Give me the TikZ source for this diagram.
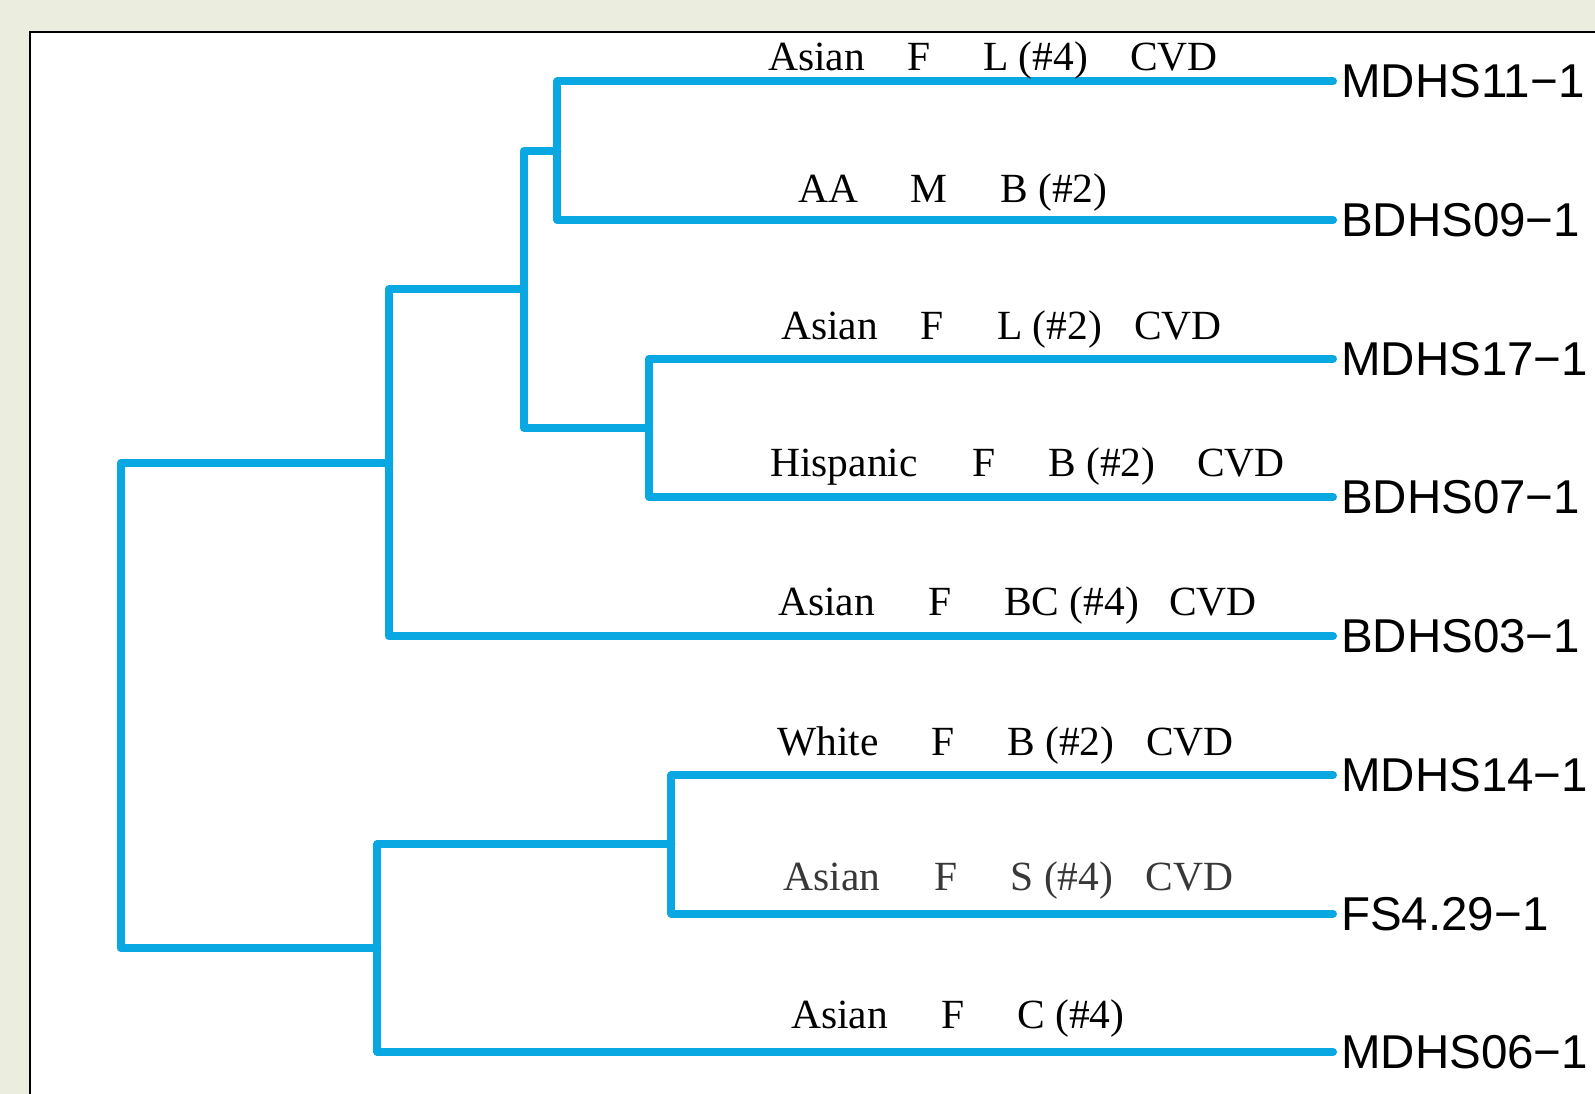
\documentclass[tikz,border=0pt]{standalone}
\usepackage{fontspec}
\setmainfont{Liberation Serif}
\newfontfamily\leaffont{Liberation Sans}
\definecolor{bgc}{RGB}{235,238,222}
\definecolor{treec}{RGB}{10,168,226}
\begin{document}
\begin{tikzpicture}[x=1pt,y=-1pt,
  branch/.style={draw=treec,line width=8pt,line cap=round,line join=round},
  word/.style={anchor=base west,inner sep=0pt,font=\fontsize{41.5}{48}\selectfont},
  leaf/.style={anchor=base west,inner sep=0pt,font=\leaffont\fontsize{47.5}{54}\selectfont}]
\useasboundingbox (0,0) rectangle (1595,1094);
\begin{scope}
  \clip (0,0) rectangle (1595,1094);
  \fill[bgc] (0,0) rectangle (1595,1094);
  \filldraw[fill=white,draw=black,line width=2.7pt] (30,32) rectangle (1640,1140);
\end{scope}

% leaf tips
\coordinate (t1) at (1333,81.5);
\coordinate (t2) at (1333,220);
\coordinate (t3) at (1333,358.5);
\coordinate (t4) at (1333,497);
\coordinate (t5) at (1333,636);
\coordinate (t6) at (1333,775);
\coordinate (t7) at (1333,913.5);
\coordinate (t8) at (1333,1052);
% internal nodes
\coordinate (nA) at (557.4,150.7);
\coordinate (nB) at (649,427.8);
\coordinate (nC) at (523.9,289.3);
\coordinate (nD) at (388.6,462.8);
\coordinate (nE) at (671.4,844.3);
\coordinate (nF) at (377.4,948);
\coordinate (nR) at (120.5,705.4);

\draw[branch] (nA) |- (t1);
\draw[branch] (nA) |- (t2);
\draw[branch] (nB) |- (t3);
\draw[branch] (nB) |- (t4);
\draw[branch] (nC) |- (nA);
\draw[branch] (nC) |- (nB);
\draw[branch] (nD) |- (nC);
\draw[branch] (nD) |- (t5);
\draw[branch] (nE) |- (t6);
\draw[branch] (nE) |- (t7);
\draw[branch] (nF) |- (nE);
\draw[branch] (nF) |- (t8);
\draw[branch] (nR) |- (nD);
\draw[branch] (nR) |- (nF);

% leaf names
\node[leaf] (m1) at (1341,98) {MDHS11−1};
\node[leaf] (m2) at (1341,236.5) {BDHS09−1};
\node[leaf] (m3) at (1341,375) {MDHS17−1};
\node[leaf] (m4) at (1341,513.5) {BDHS07−1};
\node[leaf] (m5) at (1341,652.5) {BDHS03−1};
\node[leaf] (m6) at (1341,791.5) {MDHS14−1};
\node[leaf] (m7) at (1341,930) {FS4.29−1};
\node[leaf] (m8) at (1341,1068.5) {MDHS06−1};

% branch annotations
\node[word] (r1a) at (768,71) {Asian};
\node[word] (r1b) at (907,71) {F};
\node[word] (r1c) at (983,71) {L (\#4)};
\node[word] (r1d) at (1130,71) {CVD};

\node[word] (r2a) at (798.5,203) {AA};
\node[word] (r2b) at (910,203) {M};
\node[word] (r2c) at (1000,203) {B (\#2)};

\node[word] (r3a) at (781,339.5) {Asian};
\node[word] (r3b) at (920.5,339.5) {F};
\node[word] (r3c) at (997,339.5) {L (\#2)};
\node[word] (r3d) at (1134,339.5) {CVD};

\node[word] (r4a) at (770,476) {Hispanic};
\node[word] (r4b) at (972,476) {F};
\node[word] (r4c) at (1048,476) {B (\#2)};
\node[word] (r4d) at (1197,476) {CVD};

\node[word] (r5a) at (778,615) {Asian};
\node[word] (r5b) at (928,615) {F};
\node[word] (r5c) at (1004,615) {BC (\#4)};
\node[word] (r5d) at (1169,615) {CVD};

\node[word] (r6a) at (777,755.5) {White};
\node[word] (r6b) at (931,755.5) {F};
\node[word] (r6c) at (1007,755.5) {B (\#2)};
\node[word] (r6d) at (1146,755.5) {CVD};

\node[word,text=black!78] (r7a) at (783.5,890) {Asian};
\node[word,text=black!78] (r7b) at (934,890) {F};
\node[word,text=black!78] (r7c) at (1010.5,890) {S (\#4)};
\node[word,text=black!78] (r7d) at (1145.5,890) {CVD};

\node[word] (r8a) at (791,1028) {Asian};
\node[word] (r8b) at (941,1028) {F};
\node[word] (r8c) at (1017,1028) {C (\#4)};
\end{tikzpicture}
\end{document}
